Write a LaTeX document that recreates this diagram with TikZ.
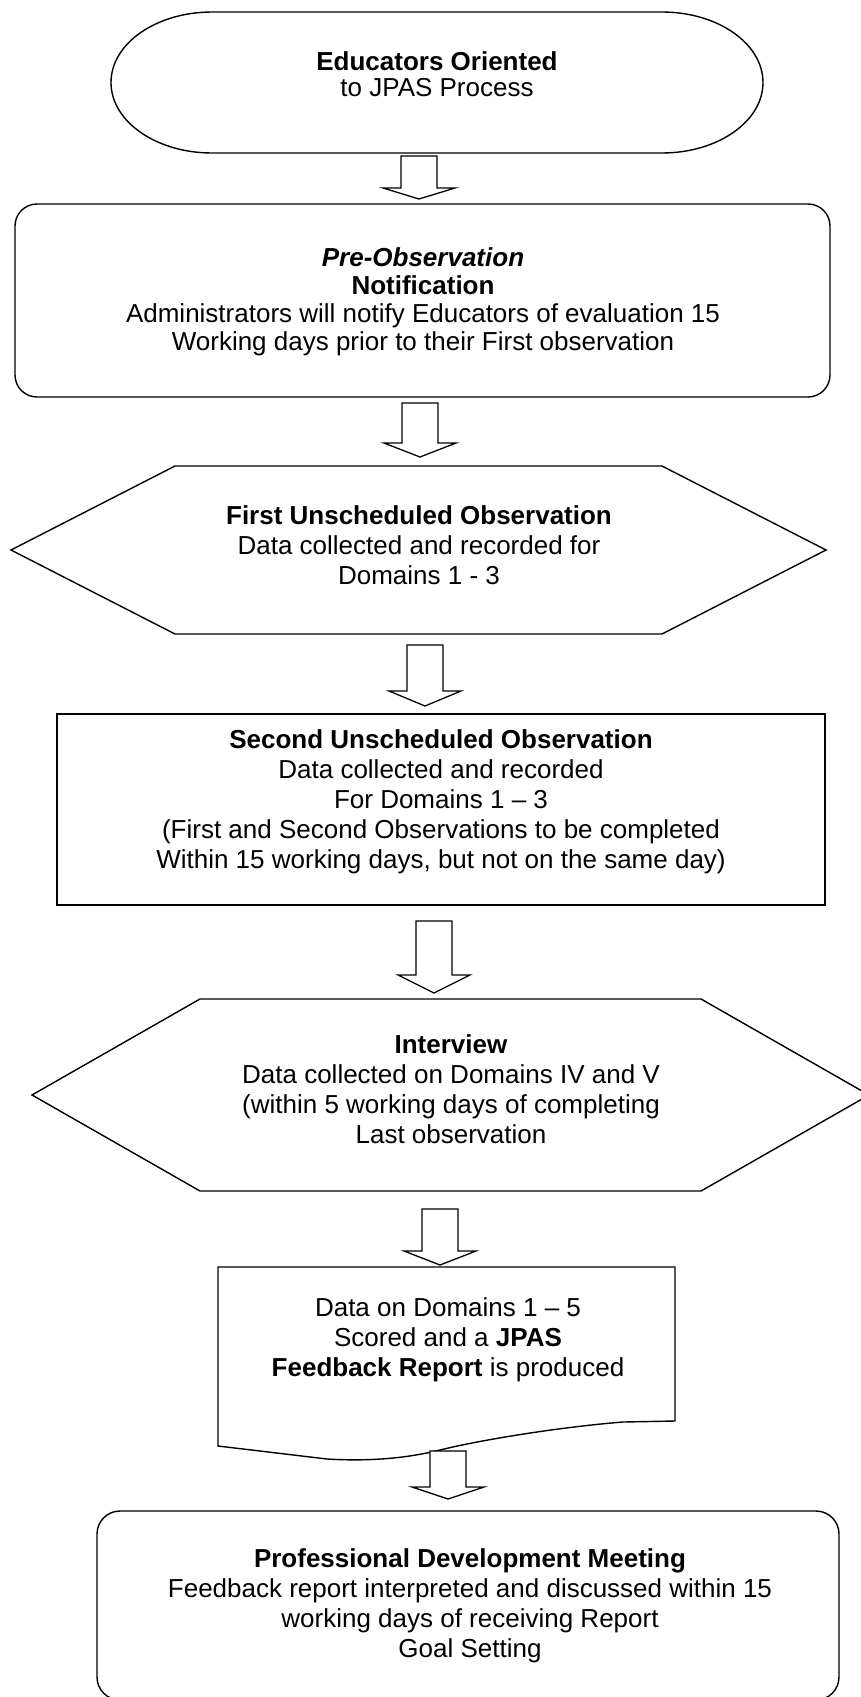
\documentclass[tikz,border=0pt]{standalone}
\usepackage{fontspec}
\setmainfont{Liberation Sans}
\tikzset{
  outline/.style={draw=black, line width=1.4pt, line join=miter},
  txt/.style={align=center, inner sep=0pt, font=\fontsize{26}{30}\selectfont},
  barrow/.style={draw=black, line width=1.3pt, fill=white}
}
% block arrow: centre x, shaft top, neck, tip
\newcommand{\blockarrow}[4]{%
  \draw[barrow] (#1-18,#2) -- (#1+18,#2) -- (#1+18,#3) -- (#1+36,#3) -- (#1,#4) -- (#1-36,#3) -- (#1-18,#3) -- cycle;}
\begin{document}
\begin{tikzpicture}[x=1pt,y=-1pt]
\useasboundingbox (0,0) rectangle (861,1697);
\fill[white] (0,0) rectangle (861,1697);

% 1 stadium
\draw[outline] (212,12) -- (662,12) arc[start angle=-90, end angle=90, x radius=101, y radius=70.5]
  -- (212,153) arc[start angle=90, end angle=270, x radius=101, y radius=70.5] -- cycle;
\node[txt, font=\fontsize{26}{26}\selectfont] (orient) at (437,74) {\textbf{Educators Oriented}\\to JPAS Process};

% 2 rounded box
\draw[outline, rounded corners=22pt] (15,204) rectangle (830,397);
\node[txt, font=\fontsize{26}{28}\selectfont] (notif) at (423,302) {\textbf{\textit{Pre-Observation}}\\\textbf{Notification}\\Administrators will notify Educators of evaluation 15\\Working days prior to their First observation};

% 3 hexagon
\draw[outline] (11,550) -- (175,466) -- (662,466) -- (826,550) -- (662,634) -- (175,634) -- cycle;
\node[txt] (first) at (419,545) {\textbf{First Unscheduled Observation}\\Data collected and recorded for\\Domains 1 - 3};

% 4 rectangle
\draw[outline] (57,714) rectangle (825,905);
\node[txt] (second) at (441,802) {\textbf{Second Unscheduled Observation}\\Data collected and recorded\\For Domains 1 \textendash{} 3\\(First and Second Observations to be completed\\Within 15 working days, but not on the same day)};

% 5 hexagon
\draw[outline] (32,1095) -- (200,999) -- (701,999) -- (869,1095) -- (701,1191) -- (200,1191) -- cycle;
\node[txt] (interview) at (451,1089) {\textbf{Interview}\\Data collected on Domains IV and V\\(within 5 working days of completing\\Last observation};

% 6 document
\draw[outline] (218,1267) -- (675,1267) -- (675,1421) -- (623,1422)
  .. controls (560,1427) and (480,1440) .. (440,1450)
  .. controls (400,1460) and (360,1461) .. (327,1459) -- (218,1446) -- cycle;
\node[txt] (report) at (448,1340) {Data on Domains 1 \textendash{} 5\\Scored and a \textbf{JPAS}\\\textbf{Feedback Report} is produced};

% 7 rounded box
\draw[outline, rounded corners=23pt] (97,1511) rectangle (839,1700);
\node[txt] (meeting) at (470,1606) {\textbf{Professional Development Meeting}\\Feedback report interpreted and discussed within 15\\working days of receiving Report\\Goal Setting};

% block arrows
\blockarrow{419}{156}{188}{199}
\blockarrow{420}{403}{443}{457}
\blockarrow{425}{645}{691}{706}
\blockarrow{434}{921}{975}{993}
\blockarrow{440}{1209}{1251}{1265}
\blockarrow{448}{1451}{1487}{1499}
\end{tikzpicture}
\end{document}
